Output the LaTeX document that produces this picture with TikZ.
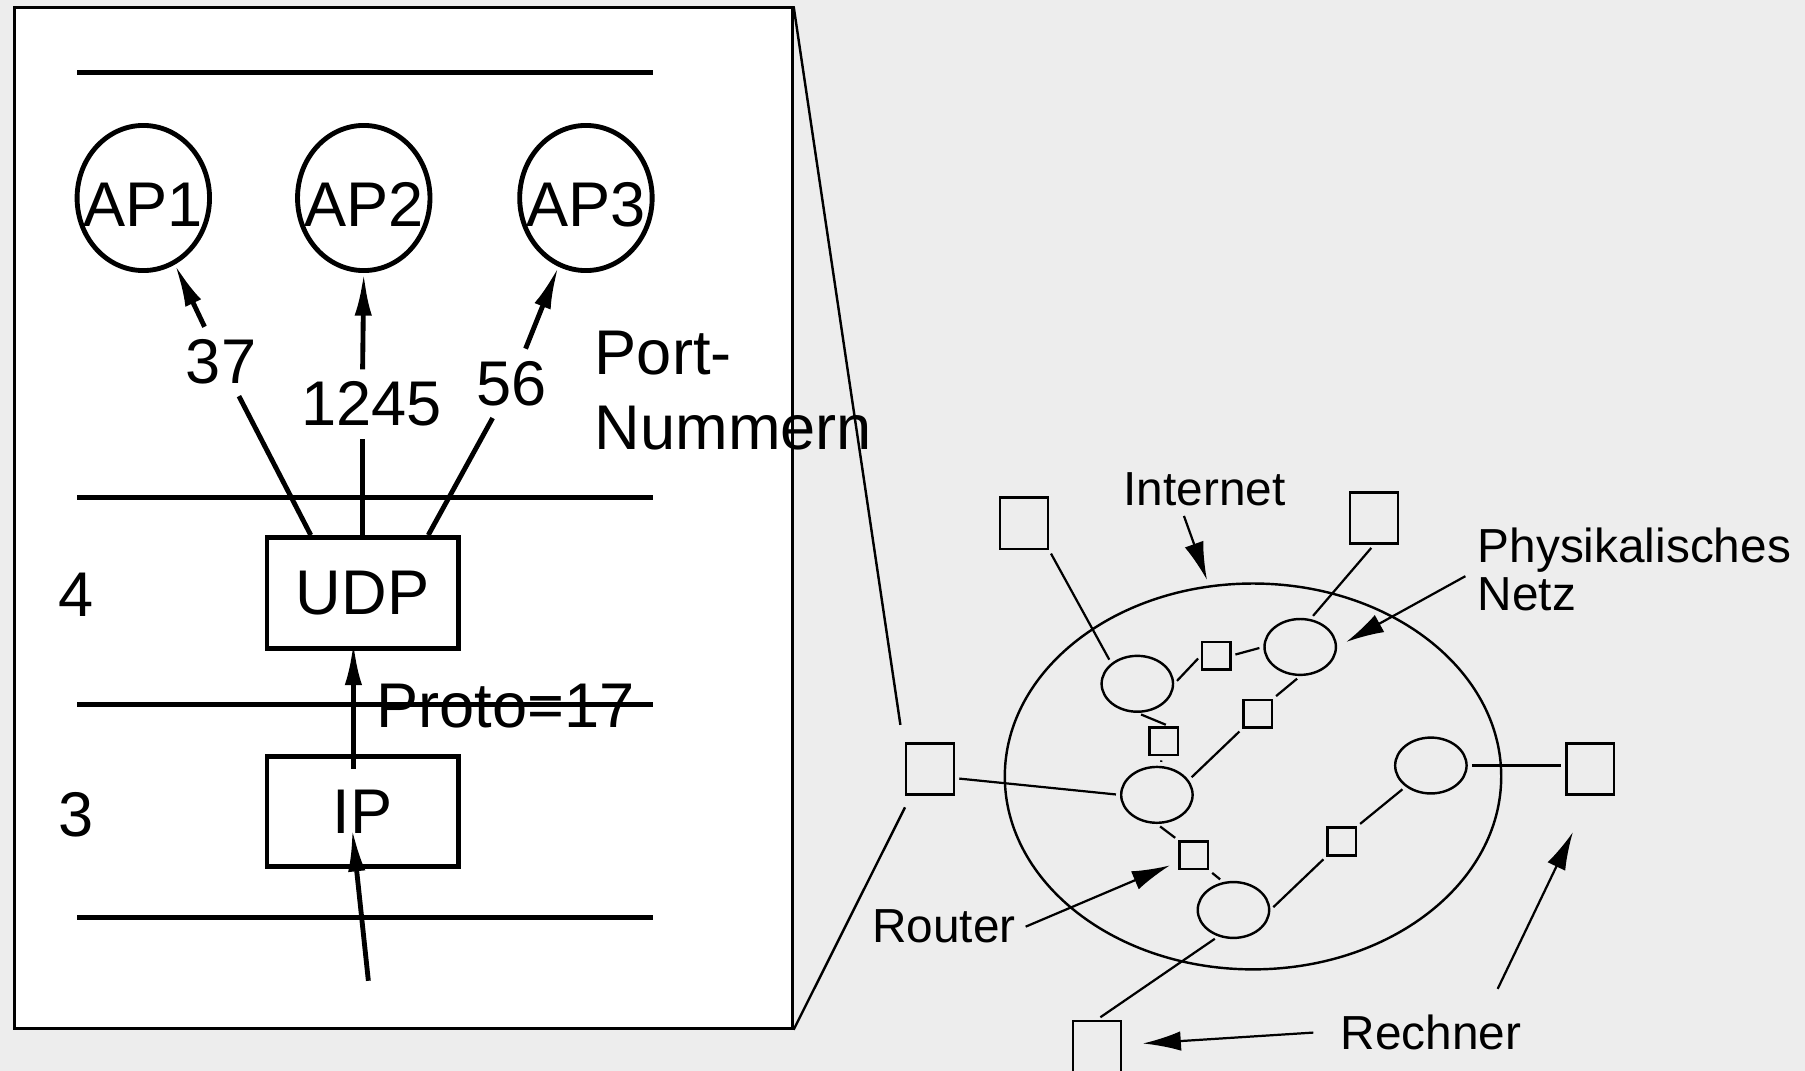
\documentclass[tikz,border=0pt]{standalone}
\usepackage{fontspec}
\setmainfont{Liberation Sans}
\usetikzlibrary{arrows.meta}
\usetikzlibrary{positioning}
\usetikzlibrary{shapes.geometric}

\definecolor{bggray}{HTML}{EDEDED}

\tikzset{
  bigtext/.style={font=\fontsize{15.6}{18.4}\selectfont},
  nettext/.style={font=\fontsize{11.8}{11.7}\selectfont,inner sep=0.08cm},
  framebox/.style={draw,fill=white,line width=0.7pt,minimum width=6.75cm,minimum height=8.86cm,inner sep=0pt},
  layerline/.style={line width=1.2pt},
  apnode/.style={draw,ellipse,line width=1.2pt,minimum width=1.15cm,minimum height=1.26cm,inner sep=0pt},
  protobox/.style={draw,rectangle,line width=1.2pt,minimum width=1.66cm,minimum height=0.96cm,bigtext},
  portlbl/.style={bigtext,inner sep=1mm},
  bigarrow/.style={line width=1.2pt,-{Latex[length=3.7mm,width=1.5mm]}},
  router/.style={draw,ellipse,line width=0.6pt,minimum width=0.62cm,minimum height=0.485cm,inner sep=0pt},
  netbox/.style={draw,rectangle,line width=0.6pt,minimum width=0.245cm,minimum height=0.24cm,inner sep=0pt},
  hostbox/.style={draw,rectangle,line width=0.6pt,minimum width=0.415cm,minimum height=0.445cm,inner sep=0pt},
  netline/.style={line width=0.55pt,shorten <=1pt,shorten >=1pt},
  netarrow/.style={line width=0.55pt,-{Latex[length=3.3mm,width=1.7mm]}}
}

\begin{document}
\begin{tikzpicture}[x=0.01cm,y=-0.01cm]
\useasboundingbox (0,0) rectangle (1568,930);
\fill[bggray] (0,0) rectangle (1568,930);

% Schichtenmodell
\node[framebox] (frame) at (350.5,450) {};
\foreach \y in {63,432,612,797}
  \draw[layerline] (67,\y) -- (567,\y);

\node[apnode,label={[bigtext,yshift=-0.06cm]center:AP1}] (ap1) at (124.5,172) {};
\node[apnode,label={[bigtext,yshift=-0.06cm]center:AP2}] (ap2) at (316,172) {};
\node[apnode,label={[bigtext,yshift=-0.06cm]center:AP3}] (ap3) at (509,172) {};

\node[protobox] (udp) at (315,515) {UDP};
\node[protobox] (ip) at (315,705) {IP};
\node[bigtext] (lay4) at (66,516.5) {4};
\node[bigtext] (lay3) at (66,708) {3};

\node[portlbl] (p37) at (192,314) {37};
\node[portlbl] (p1245) at (323,351) {1245};
\node[portlbl] (p56) at (444.5,333) {56};
\node[bigtext,align=left,anchor=north west,inner sep=0pt] (portnr) at (516,287) {Port-\\Nummern};
\node[bigtext,anchor=west,inner sep=0pt] (proto) at (326.5,613.5) {Proto=17};

\draw[bigarrow] ([xshift=-0.45cm]udp.north) -- (p37) -- (ap1);
\draw[layerline] (udp.north) -- (udp.north |- p1245.south);
\draw[bigarrow] (udp.north |- p1245.north) -- (ap2.south);
\draw[bigarrow] ([xshift=0.57cm]udp.north) -- (p56) -- (ap3);
\draw[bigarrow] ([xshift=-0.08cm,yshift=-0.13cm]ip.north) -- ([xshift=-0.08cm,yshift=0.07cm]udp.south);
\coordinate (ipin) at (320,852);
\draw[bigarrow] (ipin) -- ([xshift=-0.09cm,yshift=-0.15cm]ip.center);

% Internet
\node[draw,ellipse,line width=0.6pt,minimum width=4.31cm,minimum height=3.35cm,inner sep=0pt] (inet) at (1088.5,674.5) {};

\node[router] (r1) at (988,594) {};
\node[router] (r2) at (1129.5,562) {};
\node[router] (r3) at (1005,690.5) {};
\node[router] (r4) at (1243,665) {};
\node[router] (r5) at (1071.5,790.5) {};

\node[netbox] (s1) at (1056.5,569.5) {};
\node[netbox] (s2) at (1092.5,620) {};
\node[netbox] (s3) at (1011,644) {};
\node[netbox] (s4) at (1037,743) {};
\node[netbox] (s5) at (1165.5,731) {};

\node[hostbox] (h1) at (889.5,454.5) {};
\node[hostbox] (h2) at (1193.5,450) {};
\node[hostbox] (h3) at (808,668) {};
\node[hostbox] (h4) at (1381.5,668) {};
\node[hostbox] (h5) at (953,909) {};

\draw[netline] (h1.south east) -- (r1.north west);
\draw[netline] (h2.south) -- (r2.70);
\draw[netline] (r1.east) -- (s1.west);
\draw[netline] (s1.east) -- (r2.west);
\draw[netline] (r2.south) -- (s2.north east);
\draw[netline] (s2.south west) -- (r3.25);
\draw[netline] (r1.south) -- ([xshift=0.05cm]s3.north);
\draw[netline] (s3) -- (r3);
\draw[netline] ([yshift=-0.08cm]h3.east) -- (r3.west);
\draw[netline] (r3.south) -- (s4.north west);
\draw[netline] (s4.south east) -- (r5.110);
\draw[netline] (r5.east) -- (s5.south west);
\draw[netline] (s5.north east) -- (r4.220);
\draw[netline] (r4.east) -- (r4.east -| h4.west);
\draw[netline] (r5.240) -- (h5.north);

% Lupe
\draw[line width=0.6pt] (frame.north east) -- ([xshift=-0.04cm,yshift=0.15cm]h3.north west);
\draw[line width=0.6pt] (frame.south east) -- ([yshift=-0.1cm]h3.south west);

% Beschriftungen
\node[nettext] (inetlbl) at (1046.5,425) {Internet};
\node[nettext,align=left,anchor=north west,inner sep=0pt] (physlbl) at (1283,458) {Physikalisches\\Netz};
\node[nettext] (routerlbl) at (820,805) {Router};
\node[nettext] (rechnerlbl) at (1243,897) {Rechner};

\draw[netarrow,shorten >=0.05cm] ([xshift=-0.18cm]inetlbl.south) -- (inet.103);
\draw[netarrow,shorten >=0.09cm] ([xshift=-0.1cm,yshift=-0.06cm]physlbl.west) -- (r2.east);
\draw[netarrow,shorten >=0.08cm] (routerlbl.east) -- (s4);
\draw[netarrow,shorten >=0.18cm] ([xshift=-0.15cm]rechnerlbl.west) -- (h5);
\draw[netarrow,shorten >=0.35cm] ([xshift=0.58cm,yshift=0.14cm]rechnerlbl.north) -- (h4.south);
\end{tikzpicture}
\end{document}
